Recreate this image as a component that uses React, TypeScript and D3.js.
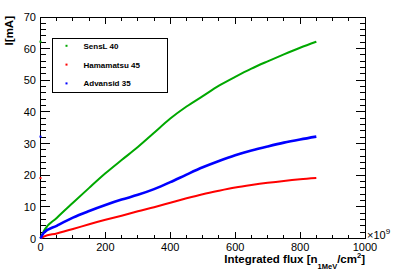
import { useEffect, useRef } from 'react';
import * as d3 from 'd3';

// integrated flux in units of 1e9 n_1MeV/cm^2
const fluxSensL = [0, 10, 50, 100, 150, 200, 250, 300, 350, 400, 450, 500, 550, 600, 650, 700, 750, 800, 850];
const currentSensL = [0, 2.3, 6.5, 11.3, 16.0, 20.6, 24.8, 28.9, 33.4, 37.9, 41.7, 45.0, 48.3, 51.1, 53.7, 56.0, 58.2, 60.3, 62.2];

const fluxOther = [0, 10, 50, 100, 150, 200, 250, 300, 350, 400, 450, 500, 550, 600, 650, 700, 750, 800, 850];
const currentAdvansid = [0, 1.8, 4.0, 6.6, 8.7, 10.6, 12.3, 13.8, 15.6, 17.8, 20.2, 22.5, 24.5, 26.3, 27.8, 29.1, 30.3, 31.3, 32.2];
const currentHamamatsu = [0, 0.6, 1.6, 3.0, 4.5, 5.9, 7.2, 8.6, 9.9, 11.3, 12.7, 14.0, 15.1, 16.1, 16.9, 17.6, 18.2, 18.7, 19.1];

const seriesNames = ['SensL 40', 'Hamamatsu 45', 'Advansid 35'];
const seriesColors = ['#00a800', '#ff0000', '#0000ff'];

const xTicks = [0, 200, 400, 600, 800, 1000];
const yTicks = [0, 10, 20, 30, 40, 50, 60, 70];

export default function App() {
  const svgRef = useRef<SVGSVGElement>(null);

  useEffect(() => {
    if (!svgRef.current) return;
    const width = 407;
    const height = 277;
    const m = { left: 40.5, right: 365, top: 17, bottom: 238.5 };
    const font = '"Liberation Sans", Arial, Helvetica, sans-serif';

    const svg = d3.select(svgRef.current);
    svg.selectAll('*').remove();
    svg.attr('width', width).attr('height', height);

    svg.append('rect').attr('width', width).attr('height', height).attr('fill', '#fff');

    const x = d3.scaleLinear().domain([0, 1000]).range([m.left, m.right]);
    const y = d3.scaleLinear().domain([0, 70]).range([m.bottom, m.top]);

    const frame = svg.append('g').attr('stroke', '#000').attr('stroke-width', 1).attr('shape-rendering', 'crispEdges');
    frame.append('rect')
      .attr('x', m.left).attr('y', m.top)
      .attr('width', m.right - m.left).attr('height', m.bottom - m.top)
      .attr('fill', 'none');

    // x ticks (bottom and top, inward)
    const xMinor = d3.range(0, 1001, 50);
    xMinor.forEach(v => {
      const major = v % 200 === 0;
      const len = major ? 7 : 3.5;
      frame.append('line').attr('x1', x(v)).attr('x2', x(v)).attr('y1', m.bottom).attr('y2', m.bottom - len);
      frame.append('line').attr('x1', x(v)).attr('x2', x(v)).attr('y1', m.top).attr('y2', m.top + len);
    });
    // y ticks (left and right, inward)
    const yMinor = d3.range(0, 71, 2);
    yMinor.forEach(v => {
      const major = v % 10 === 0;
      const len = major ? 9.5 : 5;
      frame.append('line').attr('y1', y(v)).attr('y2', y(v)).attr('x1', m.left).attr('x2', m.left + len);
      frame.append('line').attr('y1', y(v)).attr('y2', y(v)).attr('x1', m.right).attr('x2', m.right - len);
    });

    svg.append('g').selectAll('text').data(xTicks).enter().append('text')
      .attr('x', d => x(d)).attr('y', 250.5)
      .attr('text-anchor', 'middle')
      .attr('font-family', font).attr('font-size', 11)
      .text(d => d);

    svg.append('g').selectAll('text').data(yTicks).enter().append('text')
      .attr('x', 36).attr('y', d => y(d) + 4)
      .attr('text-anchor', 'end')
      .attr('font-family', font).attr('font-size', 11)
      .text(d => d);

    // exponent
    const exp = svg.append('text').attr('x', 367).attr('y', 238.5).attr('font-family', font).attr('font-size', 11);
    exp.append('tspan').text('×10');
    exp.append('tspan').attr('font-size', 8).attr('dy', -5).text('9');

    // axis titles
    const xt = svg.append('text').attr('x', 365).attr('y', 263)
      .attr('text-anchor', 'end').attr('font-family', font).attr('font-size', 11.5).attr('font-weight', 'bold');
    xt.append('tspan').text('Integrated flux [n');
    xt.append('tspan').attr('font-size', 7.5).attr('dy', 6).text('1MeV');
    xt.append('tspan').attr('dy', -6).text('/cm');
    xt.append('tspan').attr('font-size', 7.5).attr('dy', -5).text('2');
    xt.append('tspan').attr('dy', 5).text(']');

    svg.append('text')
      .attr('transform', 'translate(13,16) rotate(-90)')
      .attr('text-anchor', 'end').attr('font-family', font).attr('font-size', 11.5).attr('font-weight', 'bold')
      .text('I[mA]');

    // curves
    const line = d3.line<[number, number]>().x(d => x(d[0])).y(d => y(d[1])).curve(d3.curveMonotoneX);
    const series = [
      { pts: fluxSensL.map((f, i) => [f, currentSensL[i]] as [number, number]), color: seriesColors[0], w: 2 },
      { pts: fluxOther.map((f, i) => [f, currentHamamatsu[i]] as [number, number]), color: seriesColors[1], w: 2 },
      { pts: fluxOther.map((f, i) => [f, currentAdvansid[i]] as [number, number]), color: seriesColors[2], w: 2.6 },
    ];
    series.forEach(s => {
      svg.append('path').attr('d', line(s.pts)).attr('fill', 'none')
        .attr('stroke', s.color).attr('stroke-width', s.w).attr('stroke-linejoin', 'round');
      // stray point on the y axis at the last value
      const last = s.pts[s.pts.length - 1][1];
      svg.append('rect').attr('x', x(0) - 1).attr('y', y(last) - 1).attr('width', 2).attr('height', 2).attr('fill', s.color);
    });

    // legend
    const lg = svg.append('g');
    lg.append('rect').attr('x', 52.5).attr('y', 38.5).attr('width', 115).attr('height', 54)
      .attr('fill', '#fff').attr('stroke', '#000').attr('stroke-width', 1);
    seriesNames.forEach((name, i) => {
      const cy = 45.8 + i * 18.8;
      lg.append('rect').attr('x', 65.5).attr('y', cy - 1).attr('width', 2).attr('height', 2).attr('fill', seriesColors[i]);
      lg.append('text').attr('x', 83.5).attr('y', cy + 3).attr('font-family', font)
        .attr('font-size', 8).attr('font-weight', 'bold').attr('fill', '#000').text(name);
    });
  }, []);

  return <svg ref={svgRef} style={{ position: 'fixed', left: 0, top: 0, display: 'block' }} />;
}
